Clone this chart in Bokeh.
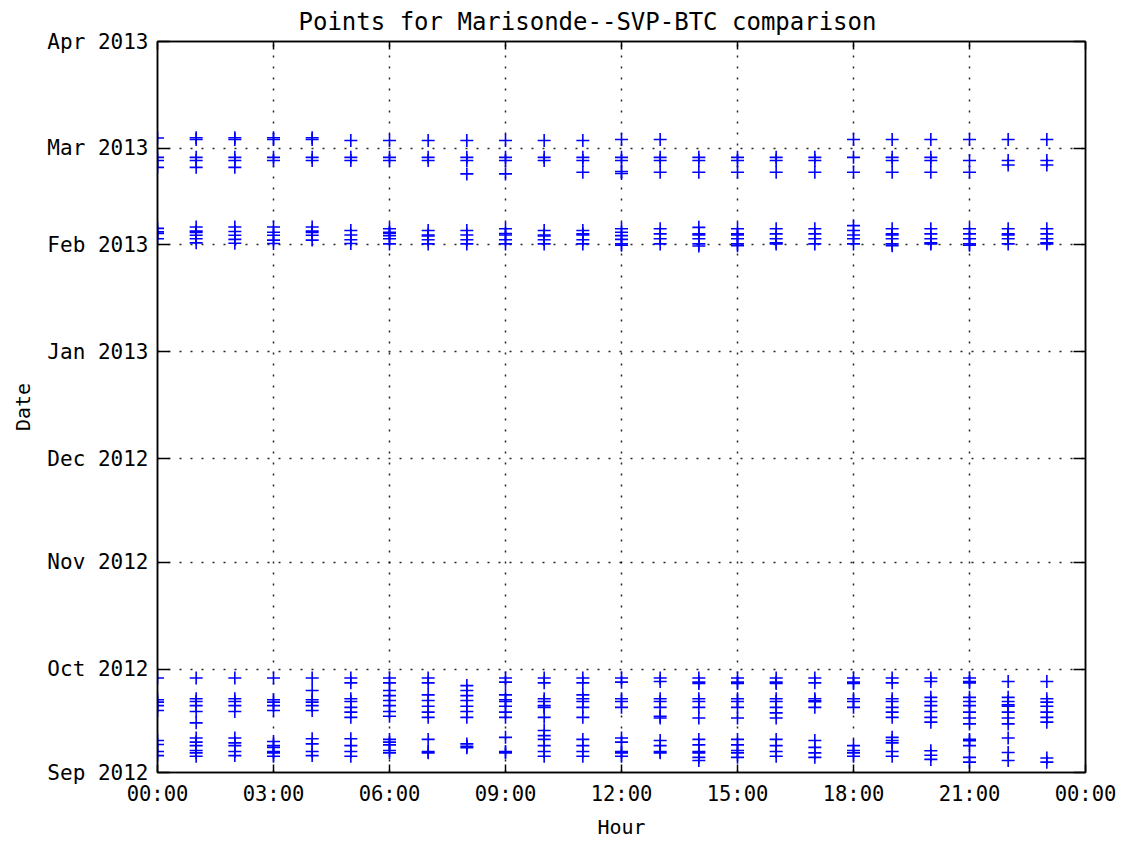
import pandas as pd
from bokeh.plotting import figure
from bokeh.models import (ColumnDataSource, Range1d, FixedTicker, LinearAxis,
                          DatetimeTickFormatter, CustomJSTickFormatter)
from bokeh.embed import file_html
from bokeh.resources import INLINE

TITLE = "Points for Marisonde--SVP-BTC comparison"

hour_ticks = [0, 3, 6, 9, 12, 15, 18, 21, 24]
hour_labels = ["00:00", "03:00", "06:00", "09:00", "12:00",
               "15:00", "18:00", "21:00", "00:00"]
month_ticks = ["2012-09-01", "2012-10-01", "2012-11-01", "2012-12-01",
               "2013-01-01", "2013-02-01", "2013-03-01", "2013-04-01"]

hours = list(range(24))

# Day numbers per hour of day; fractions carry the time within the day.
# Counted from 1 Feb 2013, so 29 is 1 Mar 2013.
late_feb = [
    [32.0, 26.4, 25.5, 23.5],
    [32.1, 31.6, 26.4, 25.5, 23.5],
    [32.1, 31.6, 26.4, 25.5, 23.5],
    [32.1, 31.6, 26.4, 25.5],
    [32.1, 31.6, 26.4, 25.5],
    [31.3, 26.4, 25.5],
    [31.3, 26.4, 25.5],
    [31.3, 26.4, 25.5],
    [31.3, 26.4, 25.5, 21.6],
    [31.3, 26.4, 25.5, 21.6],
    [31.3, 26.4, 25.5],
    [31.3, 26.4, 25.5, 22.1],
    [31.6, 26.4, 25.5, 22.3, 21.7],
    [31.6, 26.4, 25.5, 22.1],
    [26.4, 25.5, 22.1],
    [26.4, 25.5, 22.1],
    [26.4, 25.5, 22.1],
    [26.4, 25.5, 22.1],
    [31.6, 26.4, 22.1],
    [31.6, 26.4, 25.5, 22.1],
    [31.6, 26.4, 25.5, 22.1],
    [31.6, 25.5, 22.1],
    [31.6, 25.5, 24.2],
    [31.6, 25.5, 24.2],
]

early_feb = [
    [5.8, 4.8, 4.3, 2.8],
    [6.2, 5.0, 4.6, 3.8, 2.8, 1.6],
    [6.2, 4.9, 3.8, 2.6, 1.5],
    [6.2, 4.7, 3.8, 2.4, 1.4],
    [6.2, 5.0, 4.6, 3.8, 2.4],
    [5.2, 3.9, 2.5, 1.4],
    [5.7, 4.7, 4.4, 3.7, 2.8, 1.3],
    [5.2, 3.9, 3.6, 2.5, 1.3],
    [5.2, 3.9, 2.5, 1.3],
    [5.7, 4.3, 3.9, 2.5, 1.3],
    [5.2, 3.9, 3.6, 2.5, 1.3],
    [5.2, 4.2, 3.9, 2.5, 1.3],
    [5.7, 4.7, 3.7, 2.6, 1.3, 0.9],
    [5.7, 4.2, 2.8, 1.3],
    [6.1, 4.2, 3.9, 2.8, 1.3, 0.7],
    [5.7, 4.2, 3.9, 2.8, 1.3, 0.8],
    [5.7, 4.2, 2.8, 1.6, 1.3],
    [5.7, 4.2, 2.8, 1.3],
    [6.6, 5.2, 3.9, 2.8, 1.3],
    [5.7, 4.2, 3.9, 2.8, 1.3, 0.8],
    [5.7, 4.2, 2.8, 1.6, 1.3],
    [5.7, 4.2, 2.8, 1.3, 0.9],
    [5.7, 4.2, 3.9, 2.8, 1.3],
    [5.7, 4.2, 2.8, 1.6, 1.3],
]

# Counted from 1 Sep 2012.
late_sep = [
    [28.4, 22.1, 21.4, 20.4, 19.0],
    [28.4, 22.4, 21.6, 20.4, 18.7, 15.4],
    [28.4, 22.4, 21.6, 20.4, 18.7],
    [28.4, 22.1, 21.4, 20.4, 19.0],
    [28.4, 24.8, 22.1, 21.4, 20.4, 19.0],
    [28.4, 27.0, 22.4, 21.6, 19.9, 18.5, 17.0],
    [28.4, 27.0, 24.8, 23.3, 21.9, 20.4, 18.7, 17.3],
    [28.4, 27.0, 23.5, 21.9, 20.2, 18.5, 17.0],
    [26.2, 24.8, 23.3, 21.9, 20.2, 18.7, 17.0],
    [28.4, 27.2, 23.5, 22.1, 21.6, 20.2, 18.5, 17.0],
    [28.4, 27.0, 22.4, 21.6, 20.4, 19.9, 17.0],
    [28.4, 27.0, 23.5, 22.4, 21.6, 19.9, 17.0],
    [28.4, 27.2, 22.4, 21.6, 19.9],
    [28.4, 27.4, 22.4, 21.6, 19.9, 17.3, 16.8],
    [28.4, 27.2, 26.8, 22.4, 21.6, 19.9, 16.8],
    [28.4, 27.2, 26.8, 22.4, 21.6, 19.9, 16.8],
    [28.4, 27.2, 26.8, 22.4, 21.6, 19.9, 18.3, 16.8],
    [28.4, 27.0, 22.4, 21.8, 21.5, 19.9],
    [28.4, 27.2, 26.8, 22.4, 21.6, 19.9],
    [28.4, 27.0, 22.4, 21.6, 19.9, 18.5, 17.0],
    [28.4, 27.4, 22.8, 21.6, 20.4, 18.7, 17.0, 15.6],
    [28.4, 27.4, 27.0, 22.8, 21.6, 20.4, 18.5, 16.8, 15.1],
    [27.4, 22.8, 21.6, 20.6, 20.2, 18.5, 16.8, 15.1],
    [27.4, 22.4, 21.4, 20.2, 18.5, 17.0, 15.6],
]

early_sep = [
    [10.3, 9.1, 7.1, 5.9],
    [11.0, 9.8, 8.8, 7.4, 6.7, 5.7],
    [11.0, 9.6, 8.8, 7.1, 5.9],
    [10.0, 8.8, 8.3, 7.1, 6.7, 5.7],
    [10.8, 9.3, 7.1, 5.9],
    [10.8, 8.8, 7.1, 5.7],
    [10.6, 9.8, 9.0, 7.4, 6.7],
    [10.6, 7.1, 6.7],
    [9.3, 8.6, 8.2],
    [11.2, 7.1, 6.7],
    [13.2, 11.7, 10.6, 8.8, 7.1, 5.7],
    [10.6, 8.8, 7.1, 5.7],
    [11.0, 9.8, 7.1, 6.7, 5.7],
    [10.3, 8.8, 7.1, 6.7],
    [10.6, 9.0, 7.1, 6.7, 5.4, 4.5],
    [10.6, 9.0, 7.4, 6.7, 5.4],
    [10.6, 8.8, 7.1, 5.7],
    [10.3, 8.3, 6.7, 5.4],
    [8.8, 7.4, 6.7, 5.7],
    [11.2, 10.3, 9.6, 7.1, 5.7],
    [7.3, 6.0, 4.8],
    [10.6, 10.2, 8.8, 5.4, 4.0],
    [11.0, 6.8, 4.5],
    [5.2, 4.0],
]

groups = [
    (pd.Timestamp("2013-02-01"), late_feb),
    (pd.Timestamp("2013-02-01"), early_feb),
    (pd.Timestamp("2012-09-01"), late_sep),
    (pd.Timestamp("2012-09-01"), early_sep),
]

xs, ys = [], []
for base, per_hour in groups:
    for h, days in zip(hours, per_hour):
        for d in days:
            xs.append(h)
            ys.append(base + pd.Timedelta(days=d - 1))

source = ColumnDataSource(data=dict(hour=xs, date=ys))

FONT = "DejaVu Sans Mono"
month_ms = [pd.Timestamp(m).value // 10**6 for m in month_ticks]

p = figure(
    width=1121, height=841,
    x_range=Range1d(0, 24),
    y_range=Range1d(pd.Timestamp(month_ticks[0]), pd.Timestamp(month_ticks[-1])),
    y_axis_type="datetime",
    output_backend="svg", toolbar_location=None,
    min_border_left=157, min_border_right=36,
    min_border_top=41, min_border_bottom=69,
    background_fill_color="white", border_fill_color="white",
)

p.title.text = TITLE
p.title.text_font = FONT
p.title.text_font_size = "24px"
p.title.text_font_style = "normal"
p.title.text_color = "black"
p.title.align = "left"
p.title.offset = 141
p.title.standoff = 11

p.outline_line_color = "black"
p.outline_line_width = 1.5

# Dotted grid at the major ticks
p.xgrid.ticker = FixedTicker(ticks=hour_ticks)
p.ygrid.ticker = FixedTicker(ticks=month_ms)
for g in (p.xgrid, p.ygrid):
    g.grid_line_color = "black"
    g.grid_line_dash = "2 9"
    g.grid_line_width = 1.5
    g.grid_line_alpha = 0.85

xa = p.xaxis[0]
xa.ticker = FixedTicker(ticks=hour_ticks)
xa.major_label_overrides = {t: lab for t, lab in zip(hour_ticks, hour_labels)}
xa.axis_label = "Hour"

ya = p.yaxis[0]
ya.ticker = FixedTicker(ticks=month_ms)
fmt = "%b %Y"
ya.formatter = DatetimeTickFormatter(
    milliseconds=fmt, seconds=fmt, minsec=fmt, minutes=fmt, hourmin=fmt,
    hours=fmt, days=fmt, months=fmt, years=fmt)
ya.axis_label = "Date"

# Mirrored tick marks on the right and top edges
blank = CustomJSTickFormatter(code="return ''")
right = LinearAxis(ticker=FixedTicker(ticks=month_ms), formatter=blank)
top = LinearAxis(ticker=FixedTicker(ticks=hour_ticks), formatter=blank)
p.add_layout(right, "right")
p.add_layout(top, "above")

for ax in (xa, ya, right, top):
    ax.axis_line_color = "black"
    ax.axis_line_width = 1.5
    ax.major_tick_line_color = "black"
    ax.major_tick_line_width = 1.5
    ax.major_tick_out = 0
    ax.minor_tick_line_color = None
    ax.major_label_text_font = FONT
    ax.major_label_text_color = "black"
    ax.axis_label_text_font = FONT
    ax.axis_label_text_font_size = "20px"
    ax.axis_label_text_font_style = "normal"
    ax.axis_label_text_color = "black"

xa.major_label_text_font_size = "20.5px"
ya.major_label_text_font_size = "21px"

for ax in (xa, top):
    ax.major_tick_in = 8
for ax in (ya, right):
    ax.major_tick_in = 12

xa.major_label_standoff = 9
xa.axis_label_standoff = 6
ya.major_label_standoff = 9
ya.axis_label_standoff = 9

p.scatter("hour", "date", source=source, marker="cross", size=13,
          line_color="#0000ff", line_width=1.6)

open("out.html", "w").write(file_html(p, INLINE))
